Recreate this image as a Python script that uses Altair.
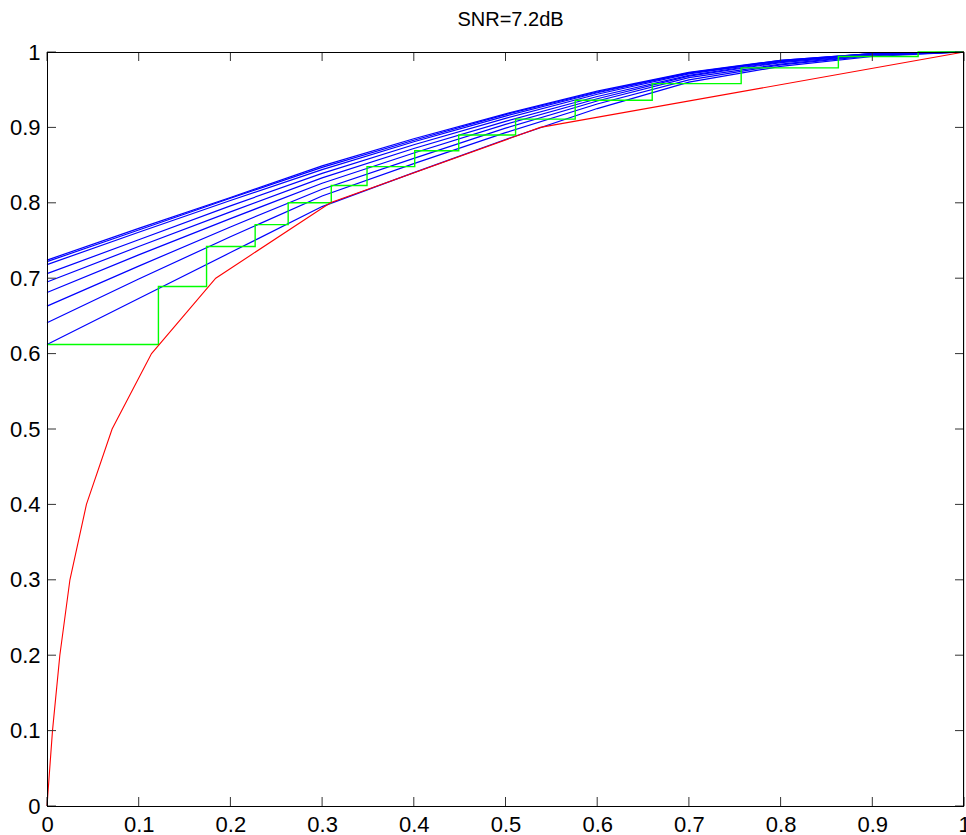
import altair as alt
import pandas as pd

# ---------------- data ----------------
tick_values = [0, 0.1, 0.2, 0.3, 0.4, 0.5, 0.6, 0.7, 0.8, 0.9, 1.0]

# red ROC curve
red_x = [0, 0.006, 0.014, 0.025, 0.043, 0.071, 0.114, 0.184, 0.309, 0.538, 1.0]
red_y = [0, 0.1, 0.2, 0.3, 0.4, 0.5, 0.6, 0.7, 0.8, 0.9, 1.0]

# green staircase (step-after)
green_x = [0, 0.1215, 0.174, 0.227, 0.263, 0.310, 0.349, 0.401, 0.449,
           0.511, 0.576, 0.660, 0.757, 0.863, 0.950, 1.0]
green_y = [0.612, 0.689, 0.742, 0.771, 0.800, 0.823, 0.848, 0.869, 0.890,
           0.911, 0.936, 0.958, 0.979, 0.994, 1.0, 1.0]

# blue curves, sampled at blue_x
blue_x = [0, 0.1, 0.2, 0.3, 0.4, 0.5, 0.6, 0.7, 0.8, 0.9, 1.0]
blue_1 = [0.612, 0.673, 0.734, 0.795, 0.840, 0.884, 0.925, 0.960, 0.981, 0.994, 1.0]
blue_2 = [0.641, 0.699, 0.755, 0.809, 0.852, 0.893, 0.931, 0.963, 0.983, 0.995, 1.0]
blue_3 = [0.663, 0.716, 0.768, 0.818, 0.859, 0.899, 0.935, 0.966, 0.984, 0.996, 1.0]
blue_4 = [0.681, 0.731, 0.779, 0.826, 0.866, 0.904, 0.938, 0.968, 0.986, 0.996, 1.0]
blue_5 = [0.695, 0.742, 0.788, 0.833, 0.872, 0.908, 0.941, 0.969, 0.987, 0.997, 1.0]
blue_6 = [0.706, 0.751, 0.796, 0.839, 0.877, 0.912, 0.944, 0.971, 0.988, 0.997, 1.0]
blue_7 = [0.718, 0.761, 0.803, 0.844, 0.881, 0.915, 0.946, 0.972, 0.988, 0.998, 1.0]
blue_8 = [0.722, 0.764, 0.806, 0.847, 0.883, 0.917, 0.947, 0.9725, 0.989, 0.998, 1.0]
blue_9 = [0.724, 0.766, 0.807, 0.849, 0.885, 0.918, 0.948, 0.973, 0.989, 0.998, 1.0]
blue_curves = [blue_1, blue_2, blue_3, blue_4, blue_5, blue_6, blue_7, blue_8, blue_9]

title_text = "SNR=7.2dB"

# ---------------- tables ----------------
red_df = pd.DataFrame({"x": red_x, "y": red_y})
green_df = pd.DataFrame({"x": green_x, "y": green_y})
blue_rows = []
for i, ys in enumerate(blue_curves):
    for xv, yv in zip(blue_x, ys):
        blue_rows.append({"curve": i, "x": xv, "y": yv})
blue_df = pd.DataFrame(blue_rows)
ticks_df = pd.DataFrame({"t": tick_values})
title_df = pd.DataFrame({"label": [title_text]})

W, H = 917, 754
FONT = "Liberation Sans"
TL = 9  # inward tick length

xscale = alt.Scale(domain=[0, 1], nice=False, zero=False)
yscale = alt.Scale(domain=[0, 1], nice=False, zero=False)

xaxis = alt.Axis(values=tick_values, format=".1~f", title=None, grid=False,
                 ticks=False, tickSize=0, domain=False, labelFont=FONT,
                 labelFontSize=22, labelColor="black", labelPadding=8,
                 labelFlush=False, labelOverlap=False)
yaxis = alt.Axis(values=tick_values, format=".1~f", title=None, grid=False,
                 ticks=False, tickSize=0, domain=False, labelFont=FONT,
                 labelFontSize=22, labelColor="black", labelPadding=7,
                 labelFlush=False, labelOverlap=False)

base_x = alt.X("x:Q", scale=xscale, axis=xaxis)
base_y = alt.Y("y:Q", scale=yscale, axis=yaxis)

blue = alt.Chart(blue_df).mark_line(color="#0000ff", strokeWidth=1.2).encode(
    x=base_x, y=base_y, detail="curve:N", order="x:Q")

green = alt.Chart(green_df).mark_line(
    color="#00ff00", strokeWidth=1.4, interpolate="step-after").encode(
    x=alt.X("x:Q", scale=xscale), y=alt.Y("y:Q", scale=yscale), order="x:Q")

red = alt.Chart(red_df).mark_line(color="#ff0000", strokeWidth=1.1).encode(
    x=alt.X("x:Q", scale=xscale), y=alt.Y("y:Q", scale=yscale), order="x:Q")

tick_col = "#333333"
bottom_ticks = alt.Chart(ticks_df).mark_rule(color=tick_col, strokeWidth=1).encode(
    x=alt.X("t:Q", scale=xscale), y=alt.value(H), y2=alt.value(H - TL))
top_ticks = alt.Chart(ticks_df).mark_rule(color=tick_col, strokeWidth=1).encode(
    x=alt.X("t:Q", scale=xscale), y=alt.value(0), y2=alt.value(TL))
left_ticks = alt.Chart(ticks_df).mark_rule(color=tick_col, strokeWidth=1).encode(
    y=alt.Y("t:Q", scale=yscale), x=alt.value(0), x2=alt.value(TL))
right_ticks = alt.Chart(ticks_df).mark_rule(color=tick_col, strokeWidth=1).encode(
    y=alt.Y("t:Q", scale=yscale), x=alt.value(W), x2=alt.value(W - TL))

# axes box (crisp 1px lines)
box_top = alt.Chart(title_df).mark_rule(color="black", strokeWidth=1).encode(
    x=alt.value(0), x2=alt.value(W), y=alt.value(0.5))
box_bottom = alt.Chart(title_df).mark_rule(color="black", strokeWidth=1).encode(
    x=alt.value(0), x2=alt.value(W), y=alt.value(H + 0.5))
box_left = alt.Chart(title_df).mark_rule(color="black", strokeWidth=1).encode(
    y=alt.value(0), y2=alt.value(H + 1), x=alt.value(0.5))
box_right = alt.Chart(title_df).mark_rule(color="black", strokeWidth=1).encode(
    y=alt.value(0), y2=alt.value(H + 1), x=alt.value(W - 0.5))

title = alt.Chart(title_df).mark_text(
    font=FONT, fontSize=20, color="black", align="center", baseline="alphabetic"
).encode(x=alt.value(W / 2 + 5), y=alt.value(-26), text="label:N")

chart = alt.layer(
    blue, green, red, bottom_ticks, top_ticks, left_ticks, right_ticks,
    box_top, box_bottom, box_left, box_right, title
).properties(
    width=W, height=H,
    autosize=alt.AutoSizeParams(type="none"),
    padding={"left": 47, "top": 52, "right": 2, "bottom": 29},
).configure_view(
    stroke=None, fill="white"
).configure(background="white")

chart.save("out.html", embed_options={"renderer": "svg", "actions": False})
